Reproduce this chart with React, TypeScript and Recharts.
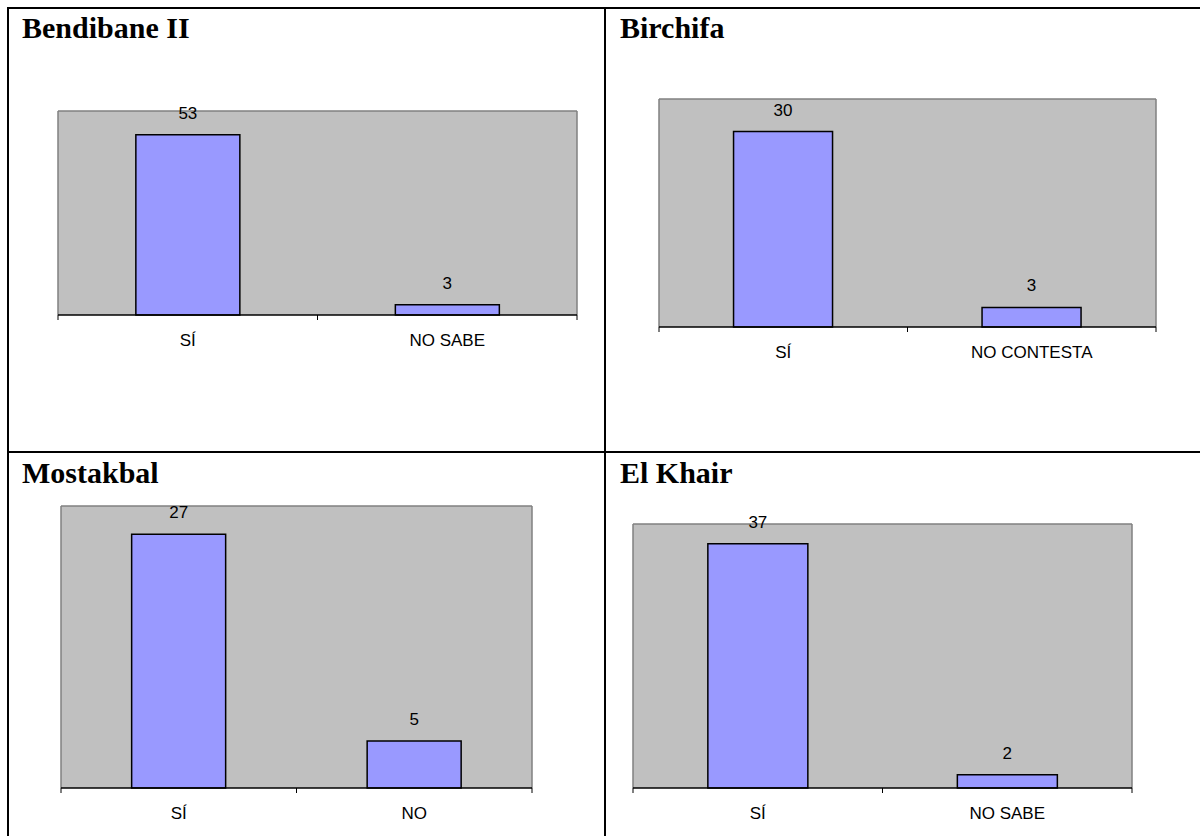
import React from "react";
import { BarChart, Bar, XAxis, YAxis, CartesianGrid, LabelList } from "recharts";

// values
const bendibaneCats = ["SÍ", "NO SABE"];
const bendibaneVals = [53, 3];

const birchifaCats = ["SÍ", "NO CONTESTA"];
const birchifaVals = [30, 3];

const mostakbalCats = ["SÍ", "NO"];
const mostakbalVals = [27, 5];

const elKhairCats = ["SÍ", "NO SABE"];
const elKhairVals = [37, 2];

const SANS = "'Liberation Sans', Arial, sans-serif";
const SERIF = "'Liberation Serif', 'Times New Roman', serif";
const PAD_L = 10;
const PAD_R = 10;
const PAD_T = 30;
const AXIS_H = 50;

interface PanelProps {
  title: string;
  titleX: number;
  titleTop: number;
  cats: string[];
  vals: number[];
  max: number;
  plot: { x: number; y: number; w: number; h: number };
}

// excel style: tick marks sit between categories, label in the middle
const BandTick = ({ x, payload, index, axisY, halfBand, count }: any) => (
  <g>
    <line x1={x - halfBand} y1={axisY} x2={x - halfBand} y2={axisY + 5} stroke="#000" />
    {index === count - 1 && (
      <line x1={x + halfBand} y1={axisY} x2={x + halfBand} y2={axisY + 5} stroke="#000" />
    )}
    <text x={x} y={axisY + 31} textAnchor="middle" fill="#000" fontSize={17} fontFamily={SANS}>
      {payload.value}
    </text>
  </g>
);

function Panel({ title, titleX, titleTop, cats, vals, max, plot }: PanelProps) {
  const data = cats.map((name, i) => ({ name, value: vals[i] }));
  const axisY = PAD_T + plot.h;
  const halfBand = plot.w / cats.length / 2;
  return (
    <>
      <div
        style={{
          position: "absolute",
          left: titleX,
          top: titleTop,
          fontFamily: SERIF,
          fontWeight: "bold",
          fontSize: 30,
          lineHeight: "30px",
          whiteSpace: "nowrap",
        }}
      >
        {title}
      </div>
      <div style={{ position: "absolute", left: plot.x - PAD_L, top: plot.y - PAD_T }}>
        <BarChart
          width={plot.w + PAD_L + PAD_R}
          height={plot.h + PAD_T + AXIS_H}
          data={data}
          margin={{ top: PAD_T, right: PAD_R, left: PAD_L, bottom: 0 }}
          barCategoryGap="30%"
        >
          <CartesianGrid
            fill="#C0C0C0"
            stroke="#808080"
            strokeWidth={1.5}
            horizontalCoordinatesGenerator={({ offset }: any) => [offset.top]}
            verticalCoordinatesGenerator={({ offset }: any) => [offset.left, offset.left + offset.width]}
          />
          <XAxis
            dataKey="name"
            height={AXIS_H}
            interval={0}
            axisLine={{ stroke: "#000", strokeWidth: 1.5 }}
            tickLine={false}
            tick={<BandTick axisY={axisY} halfBand={halfBand} count={cats.length} />}
          />
          <YAxis hide type="number" domain={[0, max]} />
          <Bar dataKey="value" fill="#9999FF" stroke="#000" strokeWidth={1.5} isAnimationActive={false}>
            <LabelList
              dataKey="value"
              position="top"
              offset={16}
              fill="#000"
              fontSize={17}
              fontFamily={SANS}
            />
          </Bar>
        </BarChart>
      </div>
    </>
  );
}

const line = (left: number, top: number, width: number, height: number) => (
  <div style={{ position: "absolute", left, top, width, height, background: "#000" }} />
);

export default function App() {
  return (
    <div
      style={{
        position: "fixed",
        left: 0,
        top: 0,
        width: 1200,
        height: 836,
        overflow: "hidden",
        background: "#fff",
      }}
    >
      {line(7, 7, 1193, 2)}
      {line(7, 7, 2, 829)}
      {line(604, 7, 2, 829)}
      {line(7, 451, 1193, 2)}

      <Panel
        title="Bendibane II"
        titleX={22}
        titleTop={13}
        cats={bendibaneCats}
        vals={bendibaneVals}
        max={60}
        plot={{ x: 58, y: 111, w: 519, h: 204 }}
      />
      <Panel
        title="Birchifa"
        titleX={620}
        titleTop={13}
        cats={birchifaCats}
        vals={birchifaVals}
        max={35}
        plot={{ x: 659, y: 99, w: 497, h: 228 }}
      />
      <Panel
        title="Mostakbal"
        titleX={22}
        titleTop={458}
        cats={mostakbalCats}
        vals={mostakbalVals}
        max={30}
        plot={{ x: 61, y: 506, w: 471, h: 282 }}
      />
      <Panel
        title="El Khair"
        titleX={620}
        titleTop={458}
        cats={elKhairCats}
        vals={elKhairVals}
        max={40}
        plot={{ x: 633, y: 524, w: 499, h: 264 }}
      />
    </div>
  );
}
